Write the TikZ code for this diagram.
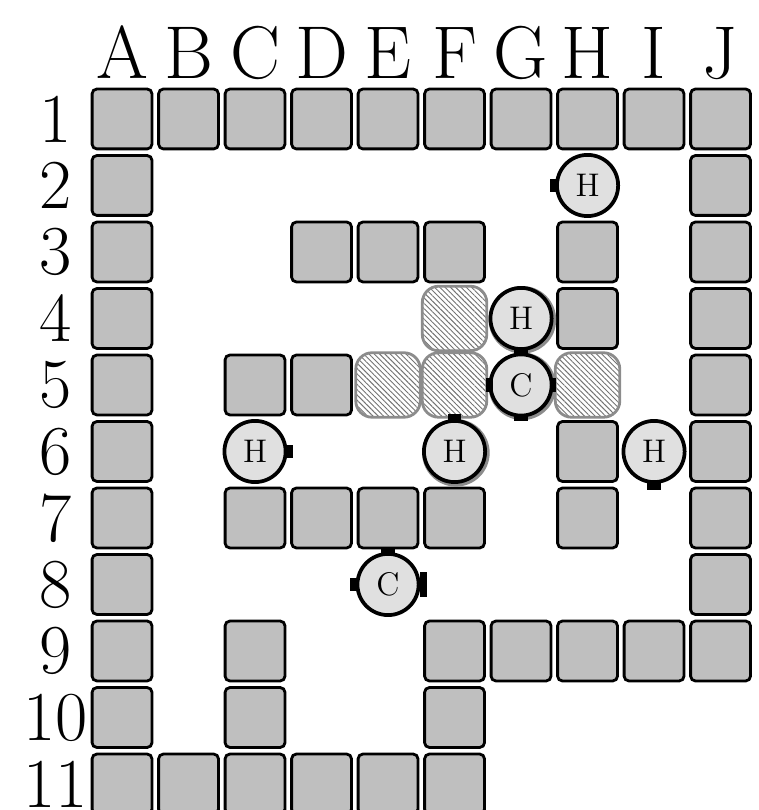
\documentclass[tikz,border=0pt]{standalone}
\usepackage{fontspec}
\usepackage{tikz}
\usetikzlibrary{patterns.meta}

\begin{document}
\begin{tikzpicture}[
  wall/.style={rectangle, draw=black, fill=black!25, line width=1.2pt, minimum size=0.9cm, inner sep=0pt, rounded corners=2pt},
  mark cell/.style={rectangle, draw=black!45, line width=1.2pt, minimum size=0.97cm, inner sep=0pt, rounded corners=7pt,
    pattern={Lines[angle=-45, distance=1.6pt, line width=0.4pt]}, pattern color=black!55},
  halo/.style={circle, draw=black!45, line width=1.6pt, minimum size=0.96cm, inner sep=0pt},
  atom/.style={circle, draw=black, fill=black!12, line width=1.6pt, minimum size=0.92cm, inner sep=0pt, font=\fontsize{14}{16}\selectfont},
  stubv/.style={rectangle, fill=black, minimum width=0.1cm, minimum height=0.2cm, inner sep=0pt},
  stubh/.style={rectangle, fill=black, minimum width=0.2cm, minimum height=0.1cm, inner sep=0pt},
  collab/.style={anchor=base, inner sep=0pt, font=\fontsize{32}{34}\selectfont},
  rowlab/.style={inner sep=0pt, font=\fontsize{30}{32}\selectfont}
]
\useasboundingbox (-0.835,0.789) rectangle (10.564,-11.391);

% Column and row labels
\foreach \l [count=\i] in {A,B,C,D,E,F,G,H,I,J}
  \node[collab] (col\l) at (\i,-0.387) {\l};
\foreach \r in {1,...,11}
  \node[rowlab] (row\r) at (0,-\r) {\r};

% Walls, row by row
\foreach \r/\cols in {1/{1,2,3,4,5,6,7,8,9,10}, 2/{1,10}, 3/{1,4,5,6,8,10}, 4/{1,8,10},
    5/{1,3,4,10}, 6/{1,8,10}, 7/{1,3,4,5,6,8,10}, 8/{1,10}, 9/{1,3,6,7,8,9,10},
    10/{1,3,6}, 11/{1,2,3,4,5,6}} {
  \foreach \c in \cols
    \node[wall] (w-\c-\r) at (\c,-\r) {};
}

% Marked cells
\node[mark cell] (mF4) at (6,-4) {};
\node[mark cell] (mE5) at (5,-5) {};
\node[mark cell] (mF5) at (6,-5) {};
\node[mark cell] (mH5) at (8,-5) {};
\node[halo] (hG4) at (7.02,-4.02) {};
\node[halo] (hG5) at (7.02,-5.02) {};
\node[halo] (hF6) at (6.02,-6.02) {};

% Atoms
\node[atom] (atH2) at (8,-2) {H};
\node[atom] (atG4) at (7,-4) {H};
\node[atom] (atG5) at (7,-5) {C};
\node[atom] (atC6) at (3,-6) {H};
\node[atom] (atF6) at (6,-6) {H};
\node[atom] (atI6) at (9,-6) {H};
\node[atom] (atE8) at (5,-8) {C};

% Bond stubs
\node[stubv] (sH2) at ([xshift=-0.03cm]atH2.west) {};
\node[stubh] (sG4) at ([yshift=-0.01cm]atG4.south) {};
\node[stubh] (sG5n) at ([yshift=0.01cm]atG5.north) {};
\node[stubh] (sG5s) at ([yshift=-0.01cm]atG5.south) {};
\node[stubv] (sG5w) at ([xshift=0.01cm]atG5.west) {};
\node[stubv] (sG5e) at ([xshift=-0.01cm]atG5.east) {};
\node[stubv] (sC6) at ([xshift=0.03cm]atC6.east) {};
\node[stubh] (sF6) at ([yshift=0.03cm]atF6.north) {};
\node[stubh] (sI6) at ([yshift=-0.04cm]atI6.south) {};
\node[stubh] (sE8n) at ([yshift=0.02cm]atE8.north) {};
\node[stubv] (sE8w) at ([xshift=-0.03cm]atE8.west) {};
\node[stubv, minimum height=0.37cm, minimum width=0.11cm] (sE8e) at ([xshift=0.04cm]atE8.east) {};
\end{tikzpicture}
\end{document}
